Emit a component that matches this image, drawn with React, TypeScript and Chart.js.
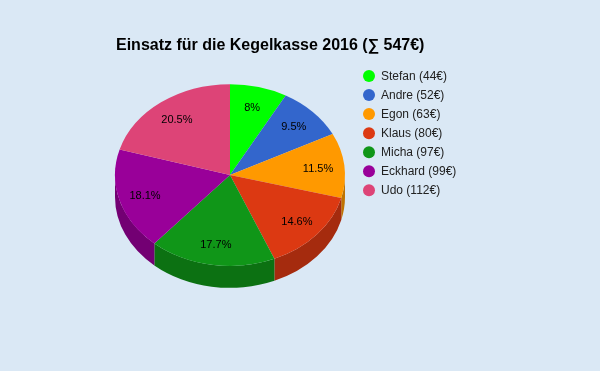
import React, { useEffect, useRef } from "react";
import { Chart, registerables } from "chart.js";

Chart.register(...registerables);

const names = ["Stefan", "Andre", "Egon", "Klaus", "Micha", "Eckhard", "Udo"];
const amounts = [44, 52, 63, 80, 97, 99, 112];
const colors = ["#00ff00", "#3366cc", "#ff9900", "#dc3912", "#109618", "#990099", "#dd4477"];
const sideColors = ["#00bf00", "#264d99", "#bf7300", "#a52b0e", "#0c7112", "#730073", "#a63359"];

const total = amounts.reduce((a, b) => a + b, 0);
const titleText = `Einsatz für die Kegelkasse 2016 (∑ ${total}€)`;
const legendLabels = names.map((n, i) => `${n} (${amounts[i]}€)`);
const pctLabels = amounts.map((v) => {
  const s = ((v / total) * 100).toFixed(1);
  return (s.endsWith(".0") ? s.slice(0, -2) : s) + "%";
});

const K = 0.79; // vertical squash
const DEPTH = 22;
const FONT = "'Liberation Sans', Arial, sans-serif";

const pie3d = {
  id: "pie3d",
  beforeDatasetsDraw(chart: any) {
    const ctx = chart.ctx;
    const meta = chart.getDatasetMeta(0);
    const arcs = meta.data;
    arcs.forEach((arc: any, i: number) => {
      const { x, y, startAngle, endAngle, outerRadius } = arc.getProps(
        ["x", "y", "startAngle", "endAngle", "outerRadius"],
        true
      );
      const R = outerRadius;
      const ry = R * K;
      for (let shift = -2; shift <= 2; shift++) {
        const off = shift * Math.PI * 2;
        const a = Math.max(startAngle, off);
        const b = Math.min(endAngle, off + Math.PI);
        if (b <= a) continue;
        ctx.save();
        ctx.beginPath();
        ctx.ellipse(x, y + DEPTH, R, ry, 0, a, b, false);
        ctx.ellipse(x, y, R, ry, 0, b, a, true);
        ctx.closePath();
        ctx.fillStyle = sideColors[i];
        ctx.fill();
        ctx.restore();
      }
    });
    const cx = arcs[0].x;
    const cy = arcs[0].y;
    ctx.save();
    ctx.translate(cx, cy);
    ctx.scale(1, K);
    ctx.translate(-cx, -cy);
  },
  afterDatasetsDraw(chart: any) {
    const ctx = chart.ctx;
    ctx.restore();
    const meta = chart.getDatasetMeta(0);
    ctx.save();
    ctx.font = `11px ${FONT}`;
    ctx.fillStyle = "#000000";
    ctx.textAlign = "center";
    ctx.textBaseline = "middle";
    meta.data.forEach((arc: any, i: number) => {
      const { x, y, startAngle, endAngle, outerRadius } = arc.getProps(
        ["x", "y", "startAngle", "endAngle", "outerRadius"],
        true
      );
      const mid = (startAngle + endAngle) / 2;
      const r = outerRadius * 0.77;
      ctx.fillText(pctLabels[i], x + Math.cos(mid) * r, y + Math.sin(mid) * r * K + 1);
    });
    ctx.restore();
  },
  afterDraw(chart: any) {
    const ctx = chart.ctx;
    ctx.save();
    ctx.font = `bold 16px ${FONT}`;
    ctx.fillStyle = "#000000";
    ctx.textAlign = "left";
    ctx.textBaseline = "middle";
    ctx.fillText(titleText, 116, 46);
    ctx.font = `12px ${FONT}`;
    legendLabels.forEach((t, i) => {
      const yy = 76 + i * 19.05;
      ctx.beginPath();
      ctx.arc(369, yy, 6, 0, Math.PI * 2);
      ctx.fillStyle = colors[i];
      ctx.fill();
      ctx.fillStyle = "#222222";
      ctx.fillText(t, 381, yy + 0.5);
    });
    ctx.restore();
  },
};

const bgPlugin = {
  id: "bg",
  beforeDraw(chart: any) {
    const ctx = chart.ctx;
    ctx.save();
    ctx.fillStyle = "#dae8f5";
    ctx.fillRect(0, 0, chart.width, chart.height);
    ctx.restore();
  },
};

export default function App() {
  const ref = useRef<HTMLCanvasElement | null>(null);
  useEffect(() => {
    document.body.style.margin = "0";
    const canvas = ref.current!;
    const chart = new Chart(canvas, {
      type: "pie",
      data: {
        labels: names,
        datasets: [
          {
            data: amounts,
            backgroundColor: colors,
            borderWidth: 0,
            clip: false as any,
          },
        ],
      },
      options: {
        responsive: false,
        animation: false,
        devicePixelRatio: 1,
        layout: { padding: { left: 115, right: 255, top: 60, bottom: 81 } },
        plugins: {
          legend: { display: false },
          title: { display: false },
          tooltip: { enabled: false },
        },
        events: [],
      },
      plugins: [bgPlugin, pie3d],
    });
    return () => chart.destroy();
  }, []);
  return (
    <div style={{ width: 600, height: 371 }}>
      <canvas ref={ref} width={600} height={371} style={{ display: "block", width: 600, height: 371 }} />
    </div>
  );
}
